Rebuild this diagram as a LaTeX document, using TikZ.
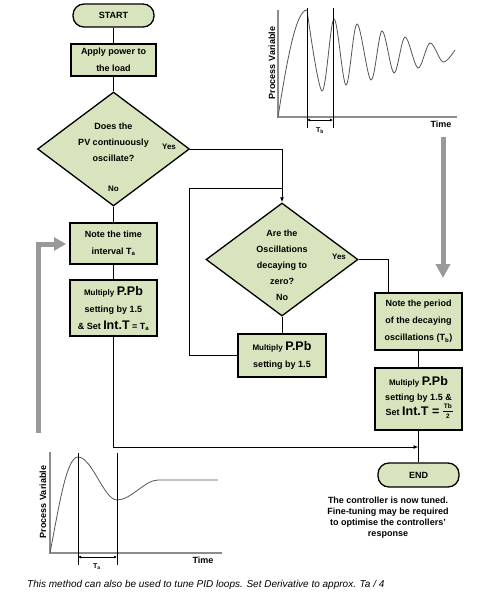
\documentclass[tikz,border=0pt]{standalone}
\usepackage{fontspec}
\setmainfont{Liberation Sans}
\usetikzlibrary{shapes.geometric,arrows.meta}
\definecolor{boxgreen}{RGB}{215,228,189}
\definecolor{arrowgray}{RGB}{153,153,153}
\definecolor{axisgray}{RGB}{140,140,140}
\definecolor{curvegray}{RGB}{85,85,85}
\newcommand\bigword[1]{{\fontsize{12.5}{15}\selectfont #1}}
\newcommand\smallword[1]{{\fontsize{8}{15}\selectfont #1}}
\begin{document}
\begin{tikzpicture}[x=1pt,y=-1pt,
  flowbox/.style={draw=black,line width=1.3pt,fill=boxgreen,inner sep=0pt,align=center,
    font=\bfseries\fontsize{9}{17}\selectfont},
  termbox/.style={flowbox,rounded corners=11pt},
  decbox/.style={draw=black,line width=1.3pt,fill=boxgreen,diamond,inner sep=0pt,
    minimum width=152pt,minimum height=114pt},
  lbl/.style={align=center,font=\bfseries\fontsize{9}{16}\selectfont,inner sep=0pt},
  yn/.style={font=\bfseries\fontsize{8}{10}\selectfont,inner sep=0pt},
  fracpart/.style={font=\bfseries\fontsize{6.5}{7}\selectfont,inner sep=0pt},
  flow/.style={draw=black,line width=1pt},
  flowarrow/.style={flow,-{Latex[length=5pt,width=4pt]}},
  bigarrow/.style={draw=arrowgray,line width=5pt},
  axisline/.style={draw=axisgray,line width=1.3pt},
  curve/.style={draw=curvegray,line width=0.8pt},
  marker/.style={draw=black,line width=0.8pt},
  span/.style={draw=black,line width=0.8pt,{Latex[length=3pt,width=3pt]}-{Latex[length=3pt,width=3pt]}},
  chartlbl/.style={font=\bfseries\fontsize{9}{10}\selectfont,inner sep=0pt},
  note/.style={align=center,font=\bfseries\fontsize{9}{11}\selectfont,inner sep=0pt}
]
\useasboundingbox[fill=white] (0,0) rectangle (492,600);

% ---------- flowchart nodes ----------
\node[termbox,minimum width=81pt,minimum height=23pt] (start) at (113.5,15.5) {START};
\node[flowbox,minimum width=85pt,minimum height=32pt] (apply) at (113.5,60) {Apply power to\\the load};
\node[decbox] (d1) at (113.5,149) {};
\node[lbl] (d1t) at (113.5,142.5) {Does the\\PV continuously\\oscillate?};
\node[yn] (d1yes) at (169,147) {Yes};
\node[yn] (d1no) at (113.5,189) {No};

\node[flowbox,minimum width=87pt,minimum height=41pt] (noteA) at (113.5,243.5) {Note the time\\interval T\textsubscript{a}};
\node[flowbox,minimum width=87pt,minimum height=56pt] (multA) at (113.5,308)
  {\smallword{Multiply} \bigword{P.Pb}\\setting by 1.5\\\& Set \bigword{Int.T} = T\textsubscript{a}};

\node[decbox,minimum height=113pt] (d2) at (282,259.5) {};
\node[lbl] (d2t) at (282,265) {Are the\\Oscillations\\decaying to\\zero?\\No};
\node[yn] (d2yes) at (339,257) {Yes};

\node[flowbox,minimum width=88pt,minimum height=43pt] (multB) at (282,355.5)
  {\smallword{Multiply} \bigword{P.Pb}\\setting by 1.5};

\node[flowbox,minimum width=87pt,minimum height=57pt] (noteB) at (418.5,321.5)
  {Note the period\\of the decaying\\oscillations (T\textsubscript{b})};
\node[flowbox,minimum width=87pt,minimum height=62pt] (multC) at (418.5,399) {};
\node[flowbox,draw=none,fill=none,font=\bfseries\fontsize{9}{15}\selectfont] (multCt) at (418.5,389.5)
  {\smallword{Multiply} \bigword{P.Pb}\\setting by 1.5 \&};
\node[flowbox,draw=none,fill=none,anchor=base west] (multCl) at (385,415.5)
  {Set \bigword{Int.T =}};
\node[fracpart] (fractop) at ([xshift=8pt,yshift=9pt]multCl.base east) {Tb};
\node[fracpart] (fracbot) at ([xshift=8pt,yshift=-1pt]multCl.base east) {2};
\coordinate (barl) at ([xshift=3pt,yshift=4pt]multCl.base east);
\coordinate (barr) at ([xshift=13pt,yshift=4pt]multCl.base east);
\draw[line width=0.6pt] (barl) -- (barr);
\node[termbox,minimum width=81pt,minimum height=24pt] (end) at (418.5,475) {END};

\node[note] (tuned) at (388,518) {The controller is now tuned.\\Fine-tuning may be required\\to optimise the controllers'\\response};

% ---------- connectors ----------
\coordinate (loopc) at (189,188);
\coordinate (joinpt) at (418.5,447);
\draw[flow] (start) -- (apply);
\draw[flow] (apply) -- (d1.north);
\draw[flow] (d1.south) -- (noteA);
\draw[flow] (noteA) -- (multA);
\draw[flowarrow] (d1.east) -| (d2.north);
\draw[flow] (multB.west) -| (loopc) -- (loopc -| d2.north);
\draw[flow] (d2.south) -- (multB);
\draw[flow] (d2.east) -| ([xshift=14pt]noteB.north west);
\draw[flow] (noteB) -- (multC);
\draw[flow] (multC) -- (end);
\draw[flowarrow] (multA.south) |- (joinpt);

% ---------- grey arrows ----------
\coordinate (garA0) at (443,137);
\coordinate (garA1) at (443,278);
\draw[bigarrow,-{Triangle[length=14pt,width=14pt]}] (garA0) -- (garA1);
\coordinate (garB0) at (38,433);
\coordinate (garB1) at (38,244);
\coordinate (garB2) at (66,244);
\draw[bigarrow,-{Triangle[length=12pt,width=13pt]}] (garB0) -- (garB1) -- (garB2);

% ---------- top chart ----------
\draw[axisline] (278,10) -- (278,117) -- (457,117);
\draw[curve] (278,117) .. controls (287,60) and (296,10) .. (307,10);
\draw[curve] plot[smooth,tension=0.55] coordinates {(307,10) (322,91) (334,19) (346,85) (357,24) (371,80) (382,31) (394,73) (405,37) (418,68) (430,43) (443,62) (455,50)};
\draw[marker] (307,8) -- (307,128);
\draw[marker] (333,8) -- (333,128);
\draw[span] (307,120) -- (333,120);
\node[font=\bfseries\fontsize{7}{8}\selectfont,inner sep=0pt] (tblbl) at (320,131) {T\textsubscript{b}};
\node[chartlbl,rotate=90] (pv1) at (272,63) {Process Variable};
\node[chartlbl] (time1) at (441,124) {Time};

% ---------- bottom chart ----------
\draw[axisline] (50,452) -- (50,553) -- (222,553);
\draw[curve] (50,553) .. controls (60,500) and (67,457) .. (78,457)
  .. controls (92,457) and (104,500) .. (117,500)
  .. controls (131,500) and (145,480) .. (158,480) -- (218,480);
\draw[marker] (78,453) -- (78,565);
\draw[marker] (117,453) -- (117,565);
\draw[span] (78,557) -- (117,557);
\node[font=\bfseries\fontsize{7}{8}\selectfont,inner sep=0pt] (talbl) at (97,567) {T\textsubscript{a}};
\node[chartlbl,rotate=90] (pv2) at (43,502) {Process Variable};
\node[chartlbl] (time2) at (203,560) {Time};

% ---------- caption ----------
\node[anchor=west,inner sep=0pt,font=\itshape\fontsize{10}{12}\selectfont] (caption) at (27,585)
  {This method can also be used to tune PID loops. Set Derivative to approx. Ta / 4};
\end{tikzpicture}
\end{document}
